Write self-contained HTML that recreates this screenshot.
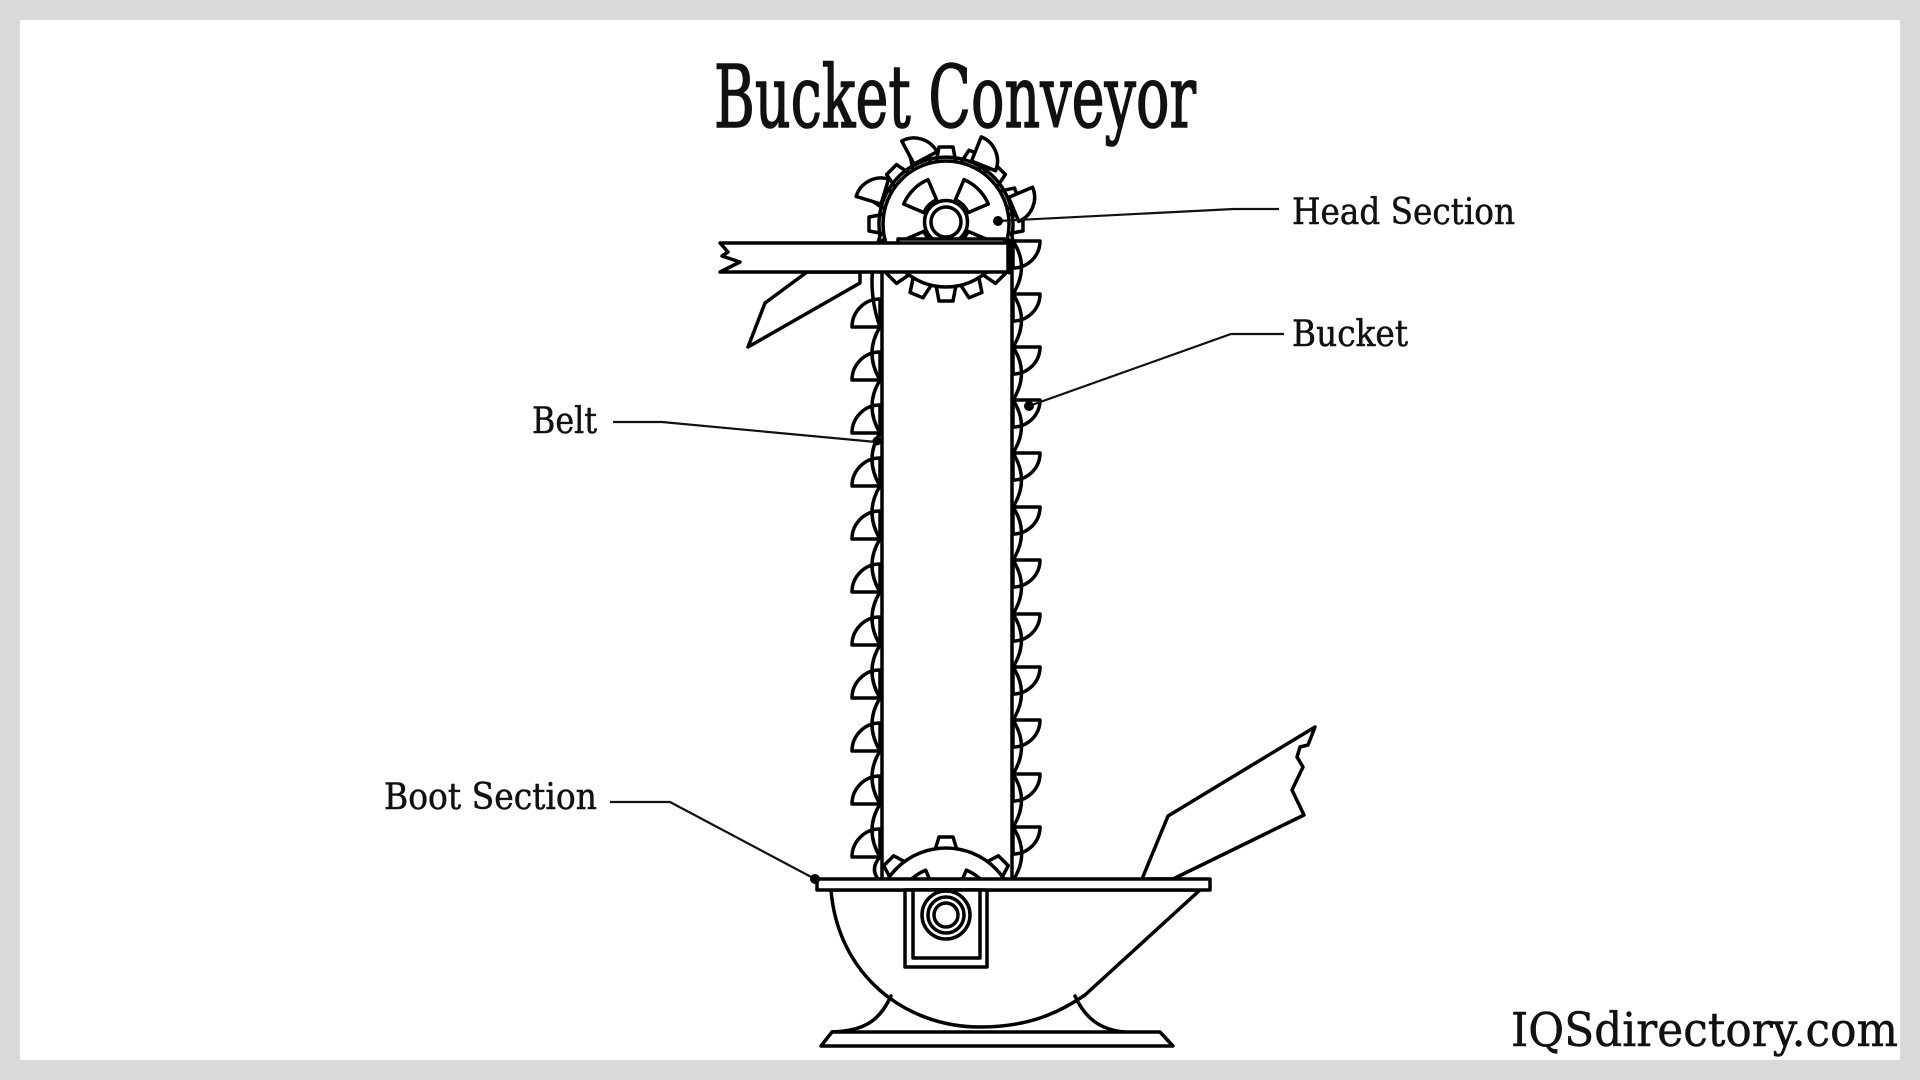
<!DOCTYPE html>
<html>
<head>
<meta charset="utf-8">
<style>
html,body{margin:0;padding:0;background:#d9d9d9;}
svg{display:block;}
</style>
</head>
<body>
<svg width="1920" height="1080" viewBox="0 0 1920 1080" xmlns="http://www.w3.org/2000/svg">
<defs>
<clipPath id="bootclip"><rect x="0" y="0" width="1920" height="879"/></clipPath>
</defs>
<rect width="1920" height="1080" fill="#d9d9d9"/>
<rect x="20" y="20" width="1880" height="1040" fill="#ffffff"/>

<g stroke="#000" stroke-width="3.5" stroke-linejoin="round" stroke-linecap="round" fill="#fff">

<!-- inlet chute (right) -->
<path d="M1142,879 L1168,816 L1315,727 L1308,745 L1300,747 L1297,757 L1303,767 L1292,790 L1304,815 L1173,879 Z"/>

<!-- bowl -->
<path d="M831,890 C838,975 905,1027 980,1027 C1030,1027 1060,1012 1085,995 L1200,890 Z"/>
<!-- feet -->
<path d="M891,996 C880,1020 865,1031 832,1032" fill="none"/>
<path d="M1075,996 C1085,1018 1100,1030 1125,1032" fill="none"/>
<!-- base -->
<path d="M832,1032 L1160,1032 L1173,1046 L821,1046 Z"/>

<!-- boot gear -->
<g clip-path="url(#bootclip)">
  <g transform="translate(946,918)">
    <path d="M-11,-68 L-7,-81 L7,-81 L11,-68 Z"/>
    <path d="M-11,-68 L-7,-81 L7,-81 L11,-68 Z" transform="rotate(45)"/>
    <path d="M-11,-68 L-7,-81 L7,-81 L11,-68 Z" transform="rotate(-45)"/>
    <path d="M-11,-68 L-7,-81 L7,-81 L11,-68 Z" transform="rotate(90)"/>
    <path d="M-11,-68 L-7,-81 L7,-81 L11,-68 Z" transform="rotate(-90)"/>
    <circle cx="0" cy="0" r="70"/>
    <path d="M-9.74,-24.1 L-19.48,-48.2 A52,52 0 0 1 19.48,-48.2 L9.74,-24.1 A26,26 0 0 0 -9.74,-24.1 Z" transform="rotate(45)"/>
    <path d="M-9.74,-24.1 L-19.48,-48.2 A52,52 0 0 1 19.48,-48.2 L9.74,-24.1 A26,26 0 0 0 -9.74,-24.1 Z" transform="rotate(-45)"/>
  </g>
</g>

<!-- head gear teeth -->
<g transform="translate(946,224)">
  <path d="M-10,-61 L-7,-77 L7,-77 L10,-61 Z" transform="rotate(0)"/>
  <path d="M-10,-61 L-7,-77 L7,-77 L10,-61 Z" transform="rotate(22.5)"/>
  <path d="M-10,-61 L-7,-77 L7,-77 L10,-61 Z" transform="rotate(45)"/>
  <path d="M-10,-61 L-7,-77 L7,-77 L10,-61 Z" transform="rotate(67.5)"/>
  <path d="M-10,-61 L-7,-77 L7,-77 L10,-61 Z" transform="rotate(90)"/>
  <path d="M-10,-61 L-7,-77 L7,-77 L10,-61 Z" transform="rotate(112.5)"/>
  <path d="M-10,-61 L-7,-77 L7,-77 L10,-61 Z" transform="rotate(135)"/>
  <path d="M-10,-61 L-7,-77 L7,-77 L10,-61 Z" transform="rotate(157.5)"/>
  <path d="M-10,-61 L-7,-77 L7,-77 L10,-61 Z" transform="rotate(180)"/>
  <path d="M-10,-61 L-7,-77 L7,-77 L10,-61 Z" transform="rotate(202.5)"/>
  <path d="M-10,-61 L-7,-77 L7,-77 L10,-61 Z" transform="rotate(225)"/>
  <path d="M-10,-61 L-7,-77 L7,-77 L10,-61 Z" transform="rotate(247.5)"/>
  <path d="M-10,-61 L-7,-77 L7,-77 L10,-61 Z" transform="rotate(270)"/>
  <path d="M-10,-61 L-7,-77 L7,-77 L10,-61 Z" transform="rotate(292.5)"/>
  <path d="M-10,-61 L-7,-77 L7,-77 L10,-61 Z" transform="rotate(315)"/>
  <path d="M-10,-61 L-7,-77 L7,-77 L10,-61 Z" transform="rotate(337.5)"/>
</g>
<!-- belt ring over head -->
<path d="M880,235.6 A67,67 0 1 1 1012,235.6" fill="none"/>
<!-- main head circle -->
<circle cx="946" cy="224" r="63"/>
<!-- windows -->
<g transform="translate(946,222)">
  <path d="M-8.99,-22.25 L-17.23,-42.65 A46,46 0 0 1 17.23,-42.65 L8.99,-22.25 A24,24 0 0 0 -8.99,-22.25 Z" transform="rotate(45)"/>
  <path d="M-8.99,-22.25 L-17.23,-42.65 A46,46 0 0 1 17.23,-42.65 L8.99,-22.25 A24,24 0 0 0 -8.99,-22.25 Z" transform="rotate(-45)"/>
  <path d="M-8.99,-22.25 L-17.23,-42.65 A46,46 0 0 1 17.23,-42.65 L8.99,-22.25 A24,24 0 0 0 -8.99,-22.25 Z" transform="rotate(135)"/>
  <path d="M-8.99,-22.25 L-17.23,-42.65 A46,46 0 0 1 17.23,-42.65 L8.99,-22.25 A24,24 0 0 0 -8.99,-22.25 Z" transform="rotate(-135)"/>
  <circle cx="0" cy="0" r="21.5"/>
  <circle cx="0" cy="0" r="15"/>
</g>

<!-- casing lines -->
<line x1="882" y1="272" x2="882" y2="879"/>
<line x1="1012" y1="243" x2="1012" y2="879"/>

<!-- left buckets -->
<path d="M880,327 L852,327 A28,28 0 0 1 880,299 Z"/>
<path d="M880,380 L852,380 A28,28 0 0 1 880,352 Z"/>
<path d="M880,433 L852,433 A28,28 0 0 1 880,405 Z"/>
<path d="M880,486 L852,486 A28,28 0 0 1 880,458 Z"/>
<path d="M880,539 L852,539 A28,28 0 0 1 880,511 Z"/>
<path d="M880,592 L852,592 A28,28 0 0 1 880,564 Z"/>
<path d="M880,645 L852,645 A28,28 0 0 1 880,617 Z"/>
<path d="M880,698 L852,698 A28,28 0 0 1 880,670 Z"/>
<path d="M880,751 L852,751 A28,28 0 0 1 880,723 Z"/>
<path d="M880,804 L852,804 A28,28 0 0 1 880,776 Z"/>
<path d="M880,857 L852,857 A28,28 0 0 1 880,829 Z"/>

<!-- right buckets -->
<path d="M1013,241 L1040,241 A27,27 0 0 1 1013,268 Z"/>
<path d="M1013,294 L1040,294 A27,27 0 0 1 1013,321 Z"/>
<path d="M1013,347 L1040,347 A27,27 0 0 1 1013,374 Z"/>
<path d="M1013,400 L1040,400 A27,27 0 0 1 1013,427 Z"/>
<path d="M1013,453 L1040,453 A27,27 0 0 1 1013,480 Z"/>
<path d="M1013,507 L1040,507 A27,27 0 0 1 1013,534 Z"/>
<path d="M1013,560 L1040,560 A27,27 0 0 1 1013,587 Z"/>
<path d="M1013,614 L1040,614 A27,27 0 0 1 1013,641 Z"/>
<path d="M1013,667 L1040,667 A27,27 0 0 1 1013,694 Z"/>
<path d="M1013,720 L1040,720 A27,27 0 0 1 1013,747 Z"/>
<path d="M1013,774 L1040,774 A27,27 0 0 1 1013,801 Z"/>
<path d="M1013,827 L1040,827 A27,27 0 0 1 1013,854 Z"/>

<!-- head buckets -->
<path d="M0,0 L-26,0 A26,26 0 0 1 0,-26 Z" transform="translate(881,204) rotate(17)"/>
<path d="M0,0 L-26,0 A26,26 0 0 1 0,-26 Z" transform="translate(914,164) rotate(62)"/>
<path d="M0,0 L-26,0 A26,26 0 0 1 0,-26 Z" transform="translate(971.5,161) rotate(112)"/>
<path d="M0,0 L-26,0 A26,26 0 0 1 0,-26 Z" transform="translate(1008.6,197.4) rotate(157)"/>

<!-- belts -->
<path fill="none" d="M880,236 Q864,282 880,327 Q864,353 880,380 Q864,406 880,433 Q864,459 880,486 Q864,512 880,539 Q864,565 880,592 Q864,618 880,645 Q864,671 880,698 Q864,724 880,751 Q864,777 880,804 Q864,830 880,857 Q870,868 878,879"/>
<path fill="none" d="M1012,236 L1013,241 Q1030,267 1013,294 Q1030,320 1013,347 Q1030,373 1013,400 Q1030,426 1013,453 Q1030,480 1013,507 Q1030,533 1013,560 Q1030,587 1013,614 Q1030,640 1013,667 Q1030,693 1013,720 Q1030,747 1013,774 Q1030,800 1013,827 Q1030,853 1014,879"/>

<!-- discharge chute (left) -->
<path d="M807,272 L765,303 L748,347 L860,283 L860,272 Z"/>
<!-- plate on bar -->
<rect x="898" y="239" width="107" height="5"/>
<!-- bar -->
<path d="M720,243 L1008,243 L1008,272 L720,272 L740,262 L722,256 L728,252 Z"/>
<line x1="1009" y1="241" x2="1009" y2="272" stroke-width="5"/>

<!-- boot plate -->
<rect x="817" y="879" width="393" height="11"/>
<!-- motor box -->
<rect x="905" y="890" width="82" height="77"/>
<rect x="913" y="890" width="67" height="68"/>
<circle cx="946" cy="915" r="24"/>
<circle cx="946" cy="915" r="18"/>
<circle cx="946" cy="915" r="12"/>
</g>

<!-- leaders -->
<g stroke="#111" stroke-width="2.2" fill="none">
<path d="M1279,209 L1234,209 L998,221"/>
<path d="M1284,334 L1231,334 L1029,406"/>
<path d="M613,422 L662,422 L876,442"/>
<path d="M610,802 L670,802 L815,879"/>
</g>
<g fill="#000">
<circle cx="998" cy="221" r="5"/>
<circle cx="1029" cy="406" r="5"/>
<circle cx="877" cy="441" r="4.5"/>
<circle cx="815" cy="879" r="5"/>
</g>

<!-- text -->
<g fill="#111" font-family="'DejaVu Serif','Liberation Serif',serif">
<text x="714" y="127" font-size="86" font-weight="normal" stroke="#111" stroke-width="1.6" textLength="482" lengthAdjust="spacingAndGlyphs">Bucket Conveyor</text>
<text x="1292" y="224" font-size="36" stroke="#111" stroke-width="0.5" textLength="223" lengthAdjust="spacingAndGlyphs">Head Section</text>
<text x="1292" y="346" font-size="36" stroke="#111" stroke-width="0.5" textLength="116" lengthAdjust="spacingAndGlyphs">Bucket</text>
<text x="532" y="433" font-size="36" stroke="#111" stroke-width="0.5" textLength="65" lengthAdjust="spacingAndGlyphs">Belt</text>
<text x="384" y="809" font-size="36" stroke="#111" stroke-width="0.5" textLength="213" lengthAdjust="spacingAndGlyphs">Boot Section</text>
<text x="1511" y="1046" font-size="47" stroke="#111" stroke-width="0.5" textLength="387" lengthAdjust="spacingAndGlyphs">IQSdirectory.com</text>
</g>
</svg>
</body>
</html>
